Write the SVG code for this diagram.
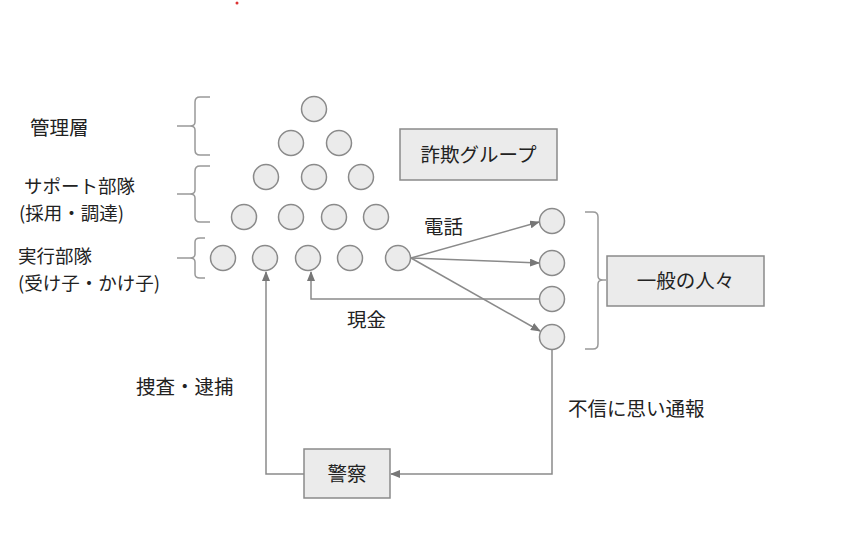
<svg xmlns="http://www.w3.org/2000/svg" width="845" height="546" viewBox="0 0 845 546">
<style>
.n{fill:#ebebeb;stroke:#8a8a8a;stroke-width:1.5}
.b{fill:#ebebeb;stroke:#8a8a8a;stroke-width:1.5}
.t{font-family:"Noto Sans CJK JP","Liberation Sans",sans-serif;font-size:19.5px;fill:#222}
.s{font-size:18.5px}
.c{fill:none;stroke:#8a8a8a;stroke-width:1.5}
.br{fill:none;stroke:#999;stroke-width:1.5}
</style>
<defs><marker id="a" markerWidth="10" markerHeight="8" refX="9" refY="4" orient="auto" markerUnits="userSpaceOnUse"><path d="M0,0L10,4L0,8z" fill="#777"/></marker></defs>
<rect width="845" height="546" fill="#fff"/>
<circle cx="237" cy="3" r="1.5" fill="#d33"/>
<g id="labels">
<text class="t" x="30" y="135">管理層</text>
<text class="t s" x="24" y="193">サポート部隊</text>
<text class="t s" x="19" y="220">(採用・調達)</text>
<text class="t s" x="18" y="263">実行部隊</text>
<text class="t s" x="18" y="290">(受け子・かけ子)</text>
<text class="t" x="424" y="234">電話</text>
<text class="t" x="347" y="327">現金</text>
<text class="t" x="136" y="394">捜査・逮捕</text>
<text class="t" x="568" y="416">不信に思い通報</text>
</g>
<g id="braces">
<path class="br" d="M210,97H200Q195,97 195,102V122Q195,126 190,126H177H190Q195,126 195,130V150Q195,155 200,155H210"/>
<path class="br" d="M210,166H200Q195,166 195,171V190Q195,194 190,194H177H190Q195,194 195,198V217Q195,222 200,222H210"/>
<path class="br" d="M205,238H200Q195,238 195,242V254Q195,258 190,258H177H190Q195,258 195,262V274Q195,278 200,278H205"/>
<path class="br" d="M585,212H593Q598,212 598,217V276Q598,280 603,280H606H603Q598,280 598,284V344Q598,349 593,349H585"/>
</g>
<g id="connectors">
<line class="c" x1="411" y1="258" x2="539" y2="222" marker-end="url(#a)"/>
<line class="c" x1="411" y1="258" x2="539" y2="263" marker-end="url(#a)"/>
<line class="c" x1="411" y1="258" x2="540" y2="331" marker-end="url(#a)"/>
<polyline class="c" points="539,299 311,299 311,272" marker-end="url(#a)"/>
<polyline class="c" points="552,350 552,474 391,474" marker-end="url(#a)"/>
<polyline class="c" points="304,474 266,474 266,272" marker-end="url(#a)"/>
</g>
<g id="nodes">
<circle class="n" cx="314" cy="109" r="12.5"/>
<circle class="n" cx="291" cy="143" r="12.5"/><circle class="n" cx="339" cy="143" r="12.5"/>
<circle class="n" cx="266" cy="177" r="12.5"/><circle class="n" cx="314" cy="177" r="12.5"/><circle class="n" cx="361" cy="177" r="12.5"/>
<circle class="n" cx="244" cy="217" r="12.5"/><circle class="n" cx="291" cy="217" r="12.5"/><circle class="n" cx="334" cy="217" r="12.5"/><circle class="n" cx="376" cy="217" r="12.5"/>
<circle class="n" cx="223" cy="258" r="12.5"/><circle class="n" cx="265" cy="258" r="12.5"/><circle class="n" cx="308" cy="258" r="12.5"/><circle class="n" cx="350" cy="258" r="12.5"/><circle class="n" cx="398" cy="258" r="12.5"/>
<circle class="n" cx="552" cy="221" r="12.5"/><circle class="n" cx="552" cy="263" r="12.5"/><circle class="n" cx="552" cy="299" r="12.5"/><circle class="n" cx="552" cy="337" r="12.5"/>
</g>
<g id="fraud"><rect class="b" x="400" y="129" width="157" height="51"/><text class="t" x="478.5" y="162" text-anchor="middle">詐欺グループ</text></g>
<g id="public"><rect class="b" x="607" y="256" width="157" height="50"/><text class="t" x="685.5" y="288" text-anchor="middle">一般の人々</text></g>
<g id="police"><rect class="b" x="304" y="449" width="86" height="49"/><text class="t" x="347" y="481" text-anchor="middle">警察</text></g>
</svg>
